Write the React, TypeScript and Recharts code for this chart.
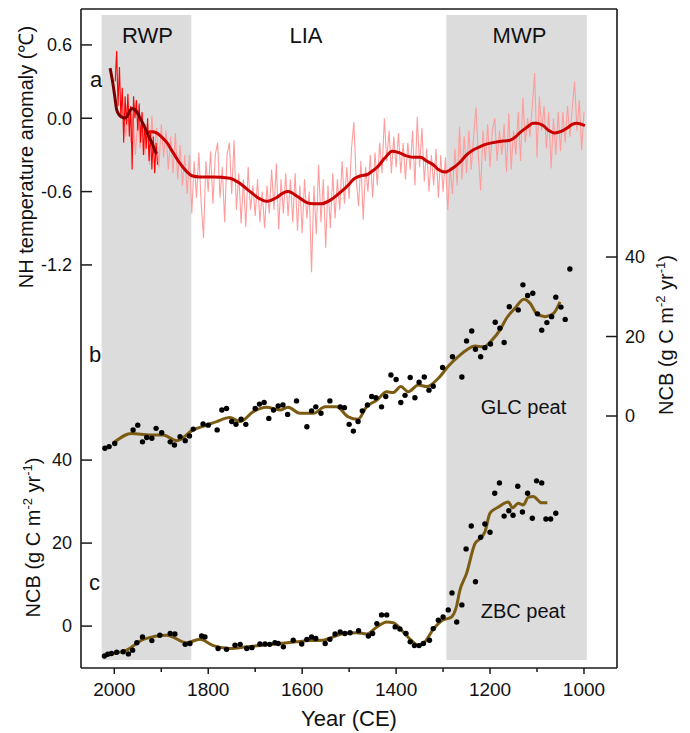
import React from 'react';
import { ComposedChart, Line, Scatter, XAxis, YAxis, ReferenceArea, ReferenceLine } from 'recharts';

const FONT = '"Liberation Sans", Arial, Helvetica, sans-serif';
const W = 674;
const H = 725;

// ---------- axes ----------
const xDomain = [929.7, 2070.9];
const xTicks = [2000, 1900, 1800, 1700, 1600, 1500, 1400, 1300, 1200, 1100, 1000];
const tempDomain = [-4.498, 0.894];
const tempTicks = [-1.2, -0.6, 0, 0.6];
const glcDomain = [-63.4, 102.4];
const glcTicks = [0, 20, 40];
const zbcDomain = [-10.1, 148.7];
const zbcTicks = [0, 20, 40];

// ---------- shaded periods ----------
const periods = [
  { name: 'RWP', from: 2027, to: 1836 },
  { name: 'MWP', from: 1293, to: 994 },
];
const bandTemp = [-4.433, 0.845];

// ---------- panel a: NH temperature anomaly ----------
const longRawStart = 1980;
const longRawStep = 5;
const longRawVals = [
  0.05, -0.15, 0.10, -0.20, 0.02, -0.30, 0.00, -0.25, 0.05, -0.30,
  -0.05, -0.38, 0.02, -0.30, -0.08, -0.40, -0.05, -0.32, -0.10, -0.42,
  -0.15, -0.45, -0.12, -0.50, -0.22, -0.55, -0.30, -0.62, -0.30, -0.78,
  -0.35, -0.65, -0.28, -0.70, -0.98, -0.35, -0.60, -0.27, -0.70, -0.30,
  -0.20, -0.65, -0.40, -0.85, -0.30, -0.20, -0.62, -0.18, -0.75, -0.45,
  -0.86, -0.50, -0.89, -0.40, -0.75, -0.55, -0.80, -0.50, -0.85, -0.60,
  -0.90, -0.55, -0.78, -0.42, -0.75, -0.37, -0.91, -0.50, -0.78, -0.45,
  -0.80, -0.50, -0.85, -0.45, -0.92, -0.55, -0.94, -0.50, -0.82, -0.60,
  -1.26, -0.55, -0.95, -0.38, -0.85, -0.50, -1.06, -0.55, -0.90, -0.45,
  -0.82, -0.50, -0.75, -0.35, -0.70, -0.40, -0.66, -0.25, -0.03, -0.50,
  -0.72, -0.35, -0.83, -0.40, -0.60, -0.30, -0.65, -0.28, -0.55, -0.20,
  -0.45, 0.00, -0.35, -0.10, -0.45, -0.15, -0.40, -0.12, -0.45, -0.20,
  -0.50, -0.20, -0.42, -0.10, -0.55, 0.01, -0.40, -0.08, -0.52, -0.25,
  -0.60, -0.30, -0.55, -0.25, -0.65, -0.30, -0.60, -0.32, -0.75, -0.40,
  -0.62, -0.25, -0.55, -0.07, -0.50, -0.15, -0.45, -0.10, -0.42, -0.15,
  0.09, -0.30, -0.59, -0.10, -0.35, -0.05, -0.40, -0.10, 0.00, -0.35,
  -0.10, -0.30, -0.05, -0.44, 0.04, -0.42, -0.10, -0.30, 0.05, -0.35,
  0.17, -0.20, 0.00, -0.15, 0.10, 0.37, -0.32, 0.18, -0.10, 0.10,
  -0.25, 0.05, -0.41, 0.00, -0.30, 0.05, -0.27, 0.05, -0.20, 0.10,
  -0.15, 0.08, 0.30, -0.10, 0.15, -0.26, 0.05,
];

const recentRawStart = 1998;
const recentRawStep = 3;
const recentRawVals = [
  0.30, 0.55, 0.10, 0.42, 0.00, 0.25, -0.20, 0.18, -0.05, 0.20,
  -0.15, 0.10, -0.42, 0.18, 0.00, 0.15, -0.10, 0.12, -0.20, 0.05,
  -0.30, -0.05, -0.25, 0.00, -0.35, -0.10, -0.42, -0.15, -0.45, -0.20,
  -0.38,
];

const longSmoothYears = [
  1932, 1920, 1910, 1900, 1888, 1875, 1860, 1845, 1835, 1818, 1790, 1754, 1730, 1711, 1690, 1675,
  1655, 1640, 1630, 1610, 1590, 1576, 1560, 1540, 1520, 1500, 1491, 1475, 1461, 1450, 1440, 1425,
  1408, 1395, 1376, 1360, 1348, 1335, 1321, 1310, 1296, 1280, 1264, 1250, 1236, 1220, 1206, 1180,
  1158, 1145, 1137, 1120, 1109, 1100, 1087, 1075, 1062, 1050, 1036, 1025, 1015, 1005, 998,
];
const longSmoothVals = [
  -0.12, -0.11, -0.12, -0.15, -0.20, -0.28, -0.37, -0.44, -0.47, -0.48, -0.48, -0.49, -0.54, -0.60, -0.66, -0.68,
  -0.65, -0.61, -0.60, -0.64, -0.69, -0.70, -0.70, -0.67, -0.61, -0.54, -0.50, -0.47, -0.46, -0.43, -0.40, -0.33,
  -0.27, -0.28, -0.31, -0.32, -0.32, -0.35, -0.38, -0.42, -0.44, -0.41, -0.36, -0.30, -0.26, -0.23, -0.21, -0.19,
  -0.18, -0.15, -0.12, -0.07, -0.04, -0.04, -0.06, -0.10, -0.12, -0.11, -0.08, -0.05, -0.04, -0.05, -0.06,
];

const recentSmoothYears = [2009, 2005, 2002, 1998, 1995, 1990, 1984, 1978, 1972, 1967, 1963, 1956, 1950, 1945, 1938, 1931, 1925, 1920, 1915, 1910];
const recentSmoothVals = [0.41, 0.33, 0.26, 0.15, 0.07, 0.03, 0.01, 0.00, 0.02, 0.06, 0.08, 0.07, 0.04, 0.00, -0.05, -0.11, -0.16, -0.20, -0.25, -0.29];

// ---------- panel b: GLC peat NCB ----------
const glcYears = [
  2020, 2011, 1999, 1960, 1950, 1940, 1931, 1920, 1911, 1899, 1881, 1872, 1860, 1849, 1840, 1832, 1811, 1800, 1781, 1771,
  1761, 1750, 1741, 1730, 1720, 1700, 1691, 1681, 1671, 1661, 1651, 1641, 1631, 1612, 1590, 1580, 1571, 1560, 1541, 1519,
  1510, 1500, 1491, 1481, 1472, 1461, 1452, 1443, 1431, 1422, 1411, 1400, 1390, 1381, 1370, 1360, 1351, 1340, 1330, 1321,
  1301, 1280, 1260, 1250, 1239, 1231, 1220, 1211, 1199, 1189, 1179, 1170, 1159, 1140, 1130, 1120, 1109, 1099, 1090, 1079,
  1069, 1060, 1049, 1040, 1030,
];
const glcVals = [
  -8.1, -7.7, -6.9, -3.5, -2.3, -6.5, -5.4, -5.6, -3.1, -4.2, -6.5, -7.3, -5.2, -6.2, -5.0, -3.3, -2.0, -2.3, -3.5, 1.5,
  1.9, -1.4, -2.1, -0.8, -2.1, 1.9, 3.0, 3.4, -0.6, 1.5, 2.5, 2.8, 0.4, 3.8, -2.7, 1.3, 2.3, 0.7, 3.8, 2.3,
  2.1, -2.1, -3.8, -1.4, 1.3, 2.8, 4.9, 4.6, 2.3, 4.9, 10.3, 9.2, 3.4, 5.2, 9.7, 4.6, 8.5, 9.8, 6.5, 7.5,
  12.2, 14.9, 9.8, 18.9, 21.4, 16.8, 14.9, 17.2, 18.1, 23.6, 22.1, 18.5, 27.5, 26.7, 33.0, 30.3, 30.9, 25.7, 21.6, 23.5,
  25.0, 29.9, 27.4, 24.3, 37.0,
];
const glcSmoothYears = [
  2003, 1963, 1924, 1896, 1867, 1832, 1803, 1782, 1754, 1732, 1704, 1676, 1647, 1630, 1605, 1576, 1551, 1527, 1502, 1481,
  1463, 1441, 1420, 1406, 1390, 1374, 1353, 1335, 1310, 1289, 1264, 1250, 1232, 1214, 1196, 1179, 1165, 1147, 1128, 1115,
  1101, 1083, 1065, 1051,
];
const glcSmoothVals = [
  -6.9, -4.4, -4.8, -4.8, -6.2, -3.5, -2.3, -1.4, -0.4, -1.4, 1.1, 2.2, 1.5, 2.2, 0.7, 0.7, 2.3, 2.3, -0.2, -0.8,
  2.3, 4.0, 6.1, 5.9, 7.4, 6.1, 7.8, 7.4, 9.5, 12.5, 15.3, 16.6, 17.6, 17.4, 19.1, 21.6, 24.6, 27.1, 29.4, 28.4,
  25.8, 25.0, 25.8, 28.7,
];

// ---------- panel c: ZBC peat NCB ----------
const zbcYears = [
  2021, 2014, 2006, 1995, 1981, 1970, 1961, 1952, 1940, 1920, 1903, 1881, 1871, 1849, 1839, 1814, 1807, 1779, 1761, 1743,
  1732, 1718, 1707, 1690, 1679, 1669, 1658, 1651, 1640, 1619, 1601, 1590, 1580, 1571, 1551, 1541, 1530, 1519, 1509, 1498,
  1480, 1459, 1450, 1441, 1431, 1420, 1402, 1392, 1379, 1370, 1361, 1351, 1342, 1329, 1321, 1310, 1300, 1289, 1281, 1271,
  1260, 1251, 1240, 1231, 1220, 1211, 1200, 1190, 1180, 1170, 1160, 1151, 1141, 1131, 1120, 1110, 1101, 1090, 1081, 1071,
  1060,
];
const zbcVals = [
  -7.2, -6.8, -6.6, -6.3, -6.2, -6.7, -5.8, -4.0, -2.6, -3.5, -2.2, -1.8, -1.9, -4.4, -4.2, -2.4, -2.6, -5.4, -5.6, -4.6,
  -4.4, -5.4, -5.2, -4.3, -4.3, -4.4, -4.0, -4.2, -5.0, -3.4, -4.3, -3.2, -2.6, -3.0, -4.2, -3.2, -1.9, -1.4, -1.8, -1.6,
  -1.1, -2.4, -1.8, 0.6, 2.7, 2.7, -0.2, -0.7, -1.8, -3.8, -4.7, -4.7, -4.2, -3.4, -0.6, 1.4, 2.2, 3.9, 8.0, 1.0,
  5.1, 18.6, 24.1, 10.7, 21.4, 24.6, 22.6, 32.0, 34.5, 26.5, 27.8, 26.7, 33.7, 27.5, 32.0, 26.0, 35.0, 34.5, 25.8, 25.8,
  27.2,
];
const zbcSmoothYears = [
  2002, 1974, 1938, 1888, 1846, 1818, 1789, 1754, 1718, 1683, 1647, 1612, 1583, 1555, 1534, 1512, 1484, 1463, 1441, 1420,
  1406, 1385, 1367, 1353, 1339, 1321, 1303, 1282, 1272, 1264, 1250, 1232, 1221, 1211, 1200, 1182, 1161, 1152, 1140, 1129,
  1119, 1108, 1090, 1078,
];
const zbcSmoothVals = [
  -6.6, -5.8, -3.2, -2.2, -4.0, -3.2, -4.7, -5.4, -5.0, -4.6, -4.2, -3.8, -3.5, -3.4, -2.6, -1.8, -1.6, -1.9, -0.2, 1.0,
  0.8, -1.4, -3.5, -4.6, -3.8, -0.8, 1.3, 2.2, 4.5, 8.7, 12.7, 19.9, 21.1, 22.7, 27.2, 28.7, 29.9, 28.5, 29.6, 29.2,
  31.0, 31.2, 29.7, 29.7,
];

// ---------- build series ----------
const zip = (years: number[], vals: number[]) => years.map((year, i) => ({ year, v: vals[i] }));
const longRaw = longRawVals.map((v, i) => ({ year: longRawStart - i * longRawStep, v }));
const recentRaw = recentRawVals.map((v, i) => ({ year: recentRawStart - i * recentRawStep, v }));
const longSmooth = zip(longSmoothYears, longSmoothVals);
const recentSmooth = zip(recentSmoothYears, recentSmoothVals);
const glcPts = zip(glcYears, glcVals);
const glcSmooth = zip(glcSmoothYears, glcSmoothVals);
const zbcPts = zip(zbcYears, zbcVals);
const zbcSmooth = zip(zbcSmoothYears, zbcSmoothVals);

// left axis carries both the temperature ticks and the ZBC ticks
const zbcToTemp = (v: number) =>
  tempDomain[0] + ((v - zbcDomain[0]) / (zbcDomain[1] - zbcDomain[0])) * (tempDomain[1] - tempDomain[0]);
const leftTicks = [
  ...zbcTicks.map((v) => ({ pos: zbcToTemp(v), label: String(v) })),
  ...tempTicks.map((v) => ({ pos: v, label: v.toFixed(1) })),
];
const leftFormatter = (value: number) => {
  const m = leftTicks.find((t) => Math.abs(t.pos - value) < 1e-6);
  return m ? m.label : '';
};

const AXIS = '#1a1a1a';
const BAND = '#dcdcdc';
const BROWN = '#7b5c12';

const XTick = (props: any) => {
  const { x, y, payload } = props;
  const major = payload.value % 200 === 0;
  return (
    <g>
      <line x1={x} x2={x} y1={y} y2={y + (major ? 6 : 4)} stroke={AXIS} strokeWidth={1.5} />
      {major && (
        <text x={x} y={y + 28} textAnchor="middle" fontSize={19} fontFamily={FONT} fill="#111">
          {payload.value}
        </text>
      )}
    </g>
  );
};

const Dot = (props: any) => <circle cx={props.cx} cy={props.cy} r={2.7} fill="#000" />;

const ncbLabel = (x: number, y: number) => (
  <text
    x={x}
    y={y}
    transform={`rotate(-90, ${x}, ${y})`}
    textAnchor="middle"
    fontSize={20}
    fontFamily={FONT}
    fill="#111"
  >
    NCB (g C m
    <tspan dy={-8} fontSize={13}>-2</tspan>
    <tspan dy={8} fontSize={20}> yr</tspan>
    <tspan dy={-8} fontSize={13}>-1</tspan>
    <tspan dy={8} fontSize={20}>)</tspan>
  </text>
);

export default function App() {
  const txt = { fontFamily: FONT, fill: '#111' } as const;
  return (
    <div style={{ position: 'relative', width: W, height: H }}>
      <ComposedChart width={W} height={H} margin={{ top: 1, right: 0, bottom: 0, left: 0 }}>
        <XAxis
          dataKey="year"
          type="number"
          domain={xDomain}
          reversed
          allowDataOverflow
          ticks={xTicks}
          interval={0}
          tickSize={0}
          tickMargin={0}
          tickLine={false}
          tick={XTick}
          axisLine={{ stroke: AXIS, strokeWidth: 1.6 }}
          height={65}
        />
        <YAxis
          yAxisId="t"
          type="number"
          domain={tempDomain}
          allowDataOverflow
          ticks={leftTicks.map((t) => t.pos)}
          interval={0}
          tickFormatter={leftFormatter}
          tickSize={-11}
          tickMargin={20}
          width={73}
          axisLine={{ stroke: AXIS, strokeWidth: 1.6 }}
          tickLine={{ stroke: AXIS, strokeWidth: 1.5 }}
          tick={{ fontSize: 18, fill: '#111', fontFamily: FONT }}
        />
        <YAxis yAxisId="c" type="number" domain={zbcDomain} allowDataOverflow hide width={0} />
        <YAxis
          yAxisId="b"
          orientation="right"
          type="number"
          domain={glcDomain}
          allowDataOverflow
          ticks={glcTicks}
          interval={0}
          tickSize={-11}
          tickMargin={19}
          width={65}
          axisLine={{ stroke: AXIS, strokeWidth: 1.6 }}
          tickLine={{ stroke: AXIS, strokeWidth: 1.5 }}
          tick={{ fontSize: 18, fill: '#111', fontFamily: FONT }}
        />

        {periods.map((p) => (
          <ReferenceArea
            key={p.name}
            yAxisId="t"
            x1={p.from}
            x2={p.to}
            y1={bandTemp[0]}
            y2={bandTemp[1]}
            fill={BAND}
            fillOpacity={1}
            stroke="none"
            ifOverflow="extendDomain"
          />
        ))}
        <ReferenceLine yAxisId="t" y={tempDomain[1]} stroke={AXIS} strokeWidth={1.6} />

        <Line yAxisId="t" data={longRaw} dataKey="v" type="linear" stroke="#ff9c9c" strokeWidth={1.1} dot={false} activeDot={false} isAnimationActive={false} />
        <Line yAxisId="t" data={longSmooth} dataKey="v" type="monotone" stroke="#c80000" strokeWidth={3} dot={false} activeDot={false} isAnimationActive={false} />
        <Line yAxisId="t" data={recentRaw} dataKey="v" type="linear" stroke="#ff0000" strokeWidth={1.1} dot={false} activeDot={false} isAnimationActive={false} />
        <Line yAxisId="t" data={recentSmooth} dataKey="v" type="monotone" stroke="#7a0000" strokeWidth={3} dot={false} activeDot={false} isAnimationActive={false} />

        <Scatter yAxisId="b" data={glcPts} dataKey="v" shape={Dot} isAnimationActive={false} />
        <Line yAxisId="b" data={glcSmooth} dataKey="v" type="monotone" stroke={BROWN} strokeWidth={3} dot={false} activeDot={false} isAnimationActive={false} />

        <Scatter yAxisId="c" data={zbcPts} dataKey="v" shape={Dot} isAnimationActive={false} />
        <Line yAxisId="c" data={zbcSmooth} dataKey="v" type="monotone" stroke={BROWN} strokeWidth={3} dot={false} activeDot={false} isAnimationActive={false} />
      </ComposedChart>

      <svg width={W} height={H} style={{ position: 'absolute', left: 0, top: 0, pointerEvents: 'none' }}>
        <text x={139.5} y={35} textAnchor="middle" fontSize={22} {...txt}>RWP</text>
        <text x={298} y={35} textAnchor="middle" fontSize={22} {...txt}>LIA</text>
        <text x={511.5} y={35} textAnchor="middle" fontSize={22} {...txt}>MWP</text>
        <text x={82} y={79} fontSize={22} {...txt}>a</text>
        <text x={81} y={354} fontSize={22} {...txt}>b</text>
        <text x={81} y={582} fontSize={22} {...txt}>c</text>
        <text x={515.5} y={406} textAnchor="middle" fontSize={20} {...txt}>GLC peat</text>
        <text x={515} y={610} textAnchor="middle" fontSize={20} {...txt}>ZBC peat</text>
        <text x={341} y={718} textAnchor="middle" fontSize={22} {...txt}>Year (CE)</text>
        <text x={25} y={149} transform="rotate(-90, 25, 149)" textAnchor="middle" fontSize={20} {...txt}>
          NH temperature anomaly (℃)
        </text>
        {ncbLabel(32, 529.5)}
        {ncbLabel(665, 327)}
      </svg>
    </div>
  );
}
